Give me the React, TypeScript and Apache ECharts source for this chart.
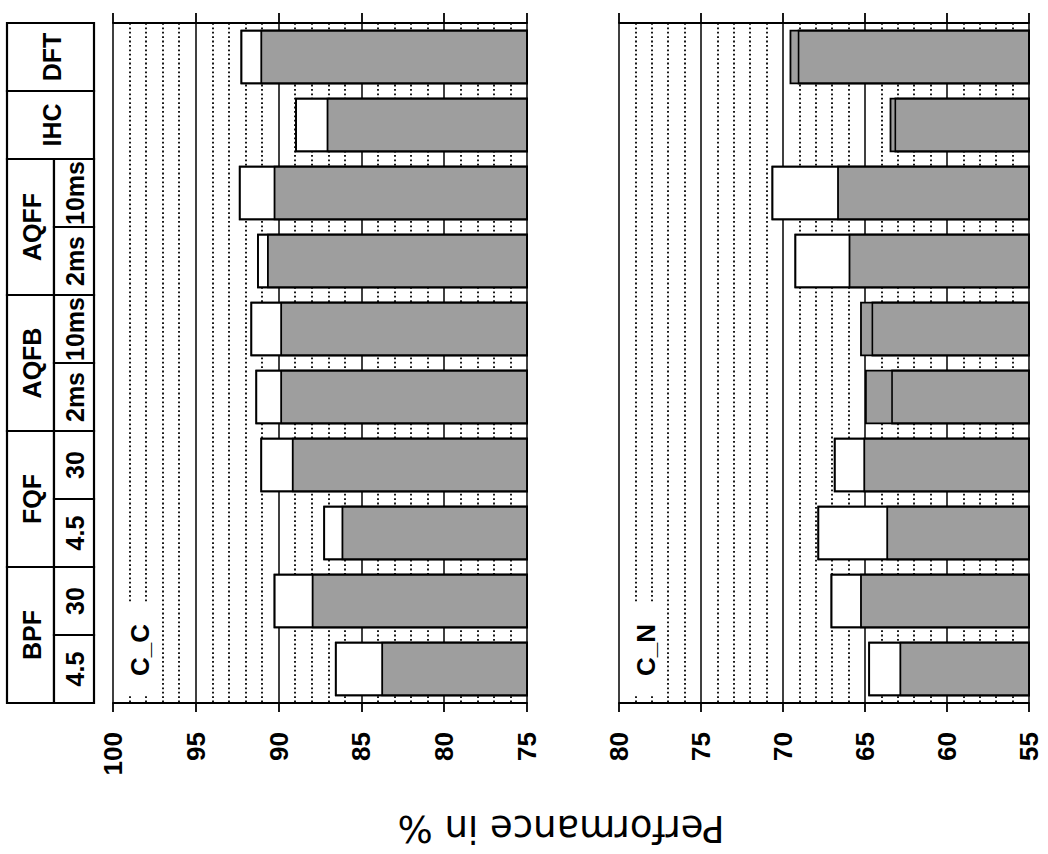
import React, { useEffect, useRef } from "react";
import * as echarts from "echarts";

// Categories listed bottom -> top (ECharts category axis order)
const categories = [
  "BPF 4.5", "BPF 30", "FQF 4.5", "FQF 30", "AQFB 2ms",
  "AQFB 10ms", "AQFF 2ms", "AQFF 10ms", "IHC", "DFT",
];
const groupLabels = ["BPF", "BPF", "FQF", "FQF", "AQFB", "AQFB", "AQFF", "AQFF", "IHC", "DFT"];
const subLabels = ["4.5", "30", "4.5", "30", "2ms", "10ms", "2ms", "10ms", "", ""];

// Panel C_C (performance in %)
const ccBase = [83.8, 88.0, 86.2, 89.2, 89.9, 89.9, 90.7, 90.3, 87.1, 91.1];
const ccImproved = [86.6, 90.3, 87.3, 91.1, 91.4, 91.7, 91.3, 92.4, 89.0, 92.3];

// Panel C_N (performance in %)
const cnBase = [62.9, 65.3, 63.7, 65.1, 65.0, 65.3, 66.0, 66.7, 63.5, 69.6];
const cnImproved = [64.8, 67.1, 67.9, 66.9, 63.4, 64.6, 69.3, 70.7, 63.2, 69.1];

const ccRange = [75, 100];
const cnRange = [55, 80];
const tickStep = 5;

const panelTitles = ["C_C", "C_N"];
const axisTitle = "Performance in %";

const GRID_TOP = 23;
const GRID_H = 680;
const GRIDS = [
  { left: 113, width: 414 },
  { left: 619, width: 410 },
];
const TABLE_X = [7, 54, 94];
const SHADE = "#9e9e9e";
const FONT = "'Liberation Sans', Arial, Helvetica, sans-serif";

function valueAxis(gridIndex: number, range: number[], bottom: boolean) {
  return {
    type: "value",
    gridIndex,
    min: range[0],
    max: range[1],
    interval: tickStep,
    inverse: true,
    position: bottom ? "bottom" : "top",
    axisLine: { show: true, onZero: false, lineStyle: { color: "#000", width: 1.8 } },
    axisTick: { show: true, inside: false, length: bottom ? 9 : 10, lineStyle: { color: "#000", width: 1.8 } },
    axisLabel: bottom
      ? {
          show: true,
          rotate: 90,
          margin: 29,
          fontSize: 26,
          fontWeight: "bold",
          fontFamily: FONT,
          color: "#000",
        }
      : { show: false },
    splitLine: bottom ? { show: true, lineStyle: { color: "#000", width: 1.5 } } : { show: false },
    minorTick: { show: false, splitNumber: 5 },
    minorSplitLine: bottom
      ? { show: true, lineStyle: { color: "#000", width: 1.8, type: [1.8, 2.6] } }
      : { show: false },
  };
}

function catAxis(gridIndex: number) {
  return {
    type: "category",
    gridIndex,
    data: categories,
    axisLine: { show: false },
    axisTick: { show: false },
    axisLabel: { show: false },
    splitLine: { show: false },
  };
}

function panelSeries(xAxisIndex: number, yAxisIndex: number, base: number[], improved: number[]) {
  const common = {
    type: "bar",
    xAxisIndex,
    yAxisIndex,
    barGap: "-100%",
    barCategoryGap: "20%",
    silent: true,
  };
  return [
    {
      ...common,
      name: "improved",
      data: improved,
      itemStyle: { color: "#ffffff", borderColor: "#000", borderWidth: 1.8 },
    },
    {
      ...common,
      name: "baseline",
      data: base,
      itemStyle: { color: SHADE, borderColor: "#000", borderWidth: 1.8 },
    },
    {
      ...common,
      name: "improved outline",
      data: improved,
      itemStyle: { color: "rgba(0,0,0,0)", borderColor: "#000", borderWidth: 1.6 },
    },
  ];
}

function rotText(x: number, y: number, text: string, font: string, rotation: number, extra: any = {}) {
  return {
    type: "text",
    x,
    y,
    rotation,
    silent: true,
    z: 100,
    style: {
      text,
      font,
      fill: "#000",
      textAlign: "center",
      textVerticalAlign: "middle",
      align: "center",
      verticalAlign: "middle",
      ...extra,
    },
  };
}

export default function App() {
  const ref = useRef<HTMLDivElement>(null);

  useEffect(() => {
    if (!ref.current) return;
    const chart = echarts.init(ref.current, null, { renderer: "svg" });
    chart.setOption({
      animation: false,
      backgroundColor: "#ffffff",
      grid: GRIDS.map((g) => ({ left: g.left, top: GRID_TOP, width: g.width, height: GRID_H, containLabel: false })),
      xAxis: [
        valueAxis(0, ccRange, true),
        valueAxis(0, ccRange, false),
        valueAxis(1, cnRange, true),
        valueAxis(1, cnRange, false),
      ],
      yAxis: [catAxis(0), catAxis(1)],
      series: [
        ...panelSeries(0, 0, ccBase, ccImproved),
        ...panelSeries(2, 1, cnBase, cnImproved),
      ],
    });

    // Header table built from the category axis bands
    const centers = categories.map((c) => chart.convertToPixel({ yAxisIndex: 0 } as any, c) as number);
    const half = Math.abs(centers[1] - centers[0]) / 2;
    const elements: any[] = [];
    const cellStyle = { fill: "#fff", stroke: "#000", lineWidth: 2.2 };
    const tableFont = `bold 25px ${FONT}`;

    let i = 0;
    while (i < categories.length) {
      let j = i;
      while (j + 1 < categories.length && groupLabels[j + 1] === groupLabels[i]) j++;
      const yBottom = centers[i] + half;
      const yTop = centers[j] - half;
      const hasSub = subLabels[i] !== "";
      const gx1 = hasSub ? TABLE_X[1] : TABLE_X[2];
      elements.push({
        type: "rect",
        silent: true,
        z: 90,
        shape: { x: TABLE_X[0], y: yTop, width: gx1 - TABLE_X[0], height: yBottom - yTop },
        style: cellStyle,
      });
      elements.push(rotText((TABLE_X[0] + gx1) / 2 + 1, (yTop + yBottom) / 2, groupLabels[i], tableFont, Math.PI / 2));
      if (hasSub) {
        for (let k = i; k <= j; k++) {
          const t = centers[k] - half;
          elements.push({
            type: "rect",
            silent: true,
            z: 90,
            shape: { x: TABLE_X[1], y: t, width: TABLE_X[2] - TABLE_X[1], height: 2 * half },
            style: cellStyle,
          });
          elements.push(rotText((TABLE_X[1] + TABLE_X[2]) / 2 + 1, centers[k], subLabels[k], tableFont, Math.PI / 2));
        }
      }
      i = j + 1;
    }

    // Panel titles with white background (interrupt the dotted grid)
    GRIDS.forEach((g, gi) => {
      elements.push(
        rotText(g.left + 27, GRID_TOP + GRID_H - 55, panelTitles[gi], `bold 26px ${FONT}`, Math.PI / 2, {
          backgroundColor: "#fff",
          padding: [3, 22, 3, 18],
        })
      );
    });

    // Axis title, upside down
    elements.push(rotText(561, 828, axisTitle, "37px 'DejaVu Sans', sans-serif", Math.PI));

    chart.setOption({ graphic: elements });

    return () => chart.dispose();
  }, []);

  return (
    <div
      ref={ref}
      style={{ position: "fixed", left: 0, top: 0, width: "1048px", height: "854px", background: "#fff" }}
    />
  );
}
